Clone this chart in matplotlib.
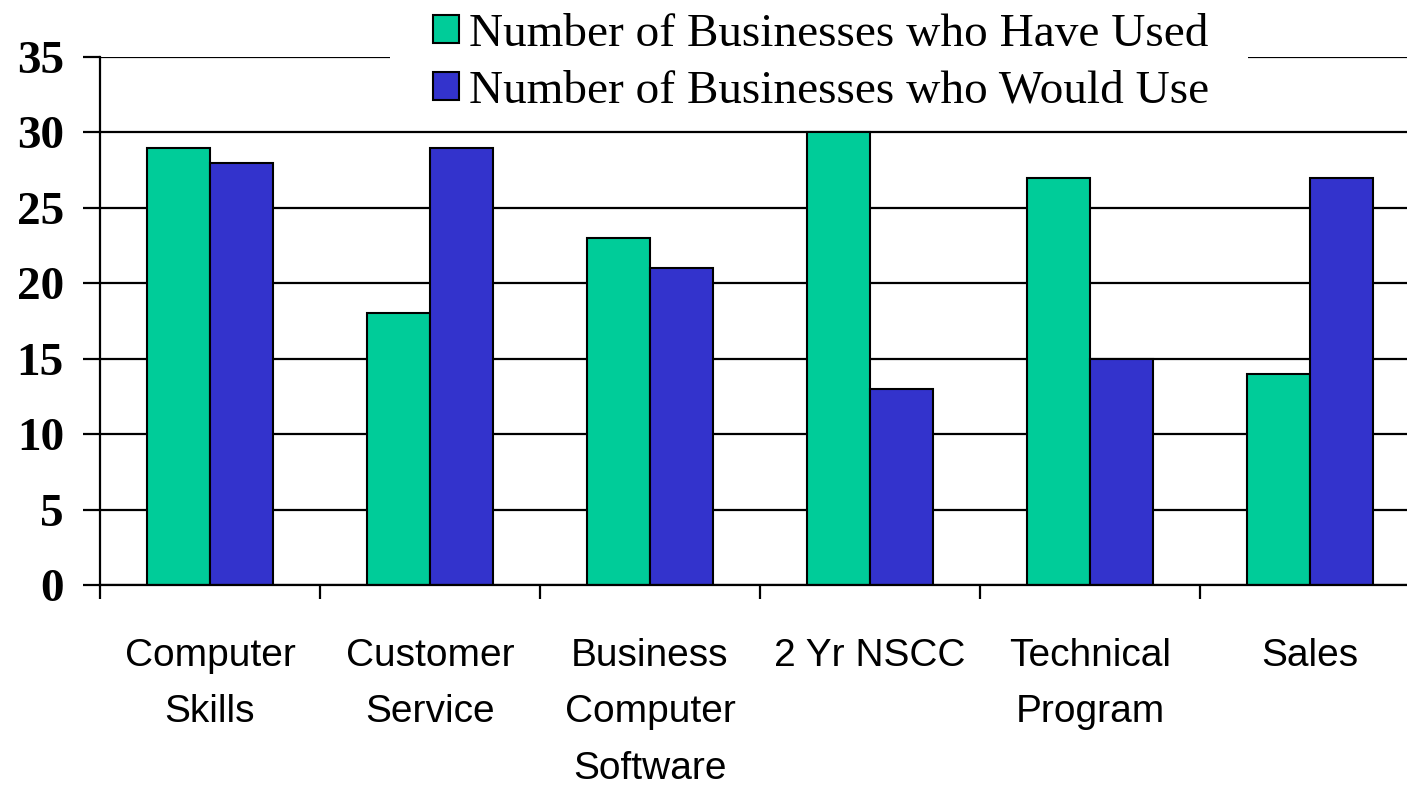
import matplotlib.pyplot as plt
import matplotlib.patches as mpatches
import numpy as np

# ==========================
# Data
# ==========================

categories = [
    "Computer\nSkills",
    "Customer\nService",
    "Business\nComputer\nSoftware",
    "2 Yr NSCC",
    "Technical\nProgram",
    "Sales",
]

have_used = [29, 18, 23, 30, 27, 14]
would_use = [28, 29, 21, 13, 15, 27]

series_labels = [
    "Number of Businesses who Have Used",
    "Number of Businesses who Would Use",
]

y_ticks = [0, 5, 10, 15, 20, 25, 30, 35]

# ==========================
# Figure
# ==========================

fig = plt.figure(figsize=(14.07, 7.91), dpi=100)

W, H = 1407, 791
# axes spans past right edge like the original (clipped)
ax = fig.add_axes([100 / W, 1 - 585 / H, 1320 / W, 528 / H])

x = np.arange(len(categories))
bw = 0.285

ax.bar(x - bw / 2, have_used, bw, color="#00CC99",
       edgecolor="black", linewidth=1.5, label=series_labels[0], zorder=3)
ax.bar(x + bw / 2, would_use, bw, color="#3333CC",
       edgecolor="black", linewidth=1.5, label=series_labels[1], zorder=3)

ax.set_xlim(-0.5, len(categories) - 0.5)
ax.set_ylim(0, 35)

# grid
ax.set_yticks(y_ticks)
ax.yaxis.grid(True, color="black", linewidth=1.6, zorder=0)
ax.set_axisbelow(True)

ax.set_yticklabels([str(v) for v in y_ticks],
                   fontfamily="Liberation Serif", fontweight="bold",
                   fontsize=34)
ax.tick_params(axis="y", length=12, width=1.6, pad=14)

# x axis
ax.set_xticks(x)
ax.set_xticklabels(categories, fontfamily="Liberation Sans",
                   fontsize=28, linespacing=1.74, va="top")
ax.set_xticks(np.arange(len(categories) + 1) - 0.5, minor=True)
ax.tick_params(axis="x", which="major", length=0, pad=38)
ax.tick_params(axis="x", which="minor", length=10, width=1.6,
               direction="out")

for side in ["top", "right"]:
    ax.spines[side].set_visible(False)
ax.spines["left"].set_linewidth(1.6)
ax.spines["bottom"].set_linewidth(1.6)
ax.spines["left"].set_zorder(4)
ax.spines["bottom"].set_zorder(4)

# white strip behind the legend (hides top gridline there)
fig.patches.append(mpatches.Rectangle(
    (390 / W, 1 - 75 / H), (1248 - 390) / W, 40 / H,
    transform=fig.transFigure, facecolor="white", edgecolor="none",
    zorder=5))

# legend
leg = fig.legend(
    loc="upper center",
    bbox_to_anchor=(821 / W, 1.013),
    frameon=False,
    prop={"family": "Liberation Serif", "size": 34},
    handlelength=0.55,
    handleheight=0.55,
    handletextpad=0.2,
    labelspacing=0.3,
    borderpad=0.0,
)
leg.set_zorder(6)

plt.savefig("out.png", dpi=100)
